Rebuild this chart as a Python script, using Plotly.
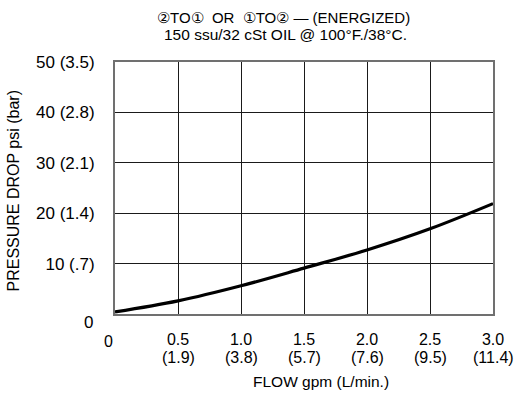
import plotly.graph_objects as go

flow_gpm = [0.0, 0.5, 1.0, 1.5, 2.0, 2.5, 3.0]
pressure_psi = [0.4, 2.6, 5.6, 9.1, 12.7, 16.9, 21.9]

x_tick_vals = [0.5, 1.0, 1.5, 2.0, 2.5, 3.0]
x_tick_gpm = ["0.5", "1.0", "1.5", "2.0", "2.5", "3.0"]
x_tick_lpm = ["(1.9)", "(3.8)", "(5.7)", "(7.6)", "(9.5)", "(11.4)"]
y_tick_vals = [10, 20, 30, 40, 50]
y_tick_text = ["10 (.7)", "20 (1.4)", "30 (2.1)", "40 (2.8)", "50 (3.5)"]

title_lines = ["②TO①  OR  ①TO② — (ENERGIZED)", "150 ssu/32 cSt OIL @ 100°F./38°C."]
x_title = "FLOW gpm (L/min.)"
y_title = "PRESSURE DROP psi (bar)"

FONT = "Liberation Sans, Arial, sans-serif"
W, H = 515, 401
L, R, T, B = 115, 22, 62, 87
PW, PH = W - L - R, H - T - B
XTICK = 16
YTICK = 17
TXT = 15.5

fig = go.Figure()
fig.add_trace(go.Scatter(x=flow_gpm, y=pressure_psi, mode="lines",
                         line=dict(color="black", width=3.2, shape="spline"),
                         showlegend=False, hoverinfo="skip"))

fig.update_layout(
    template="none",
    width=W, height=H,
    margin=dict(l=L, r=R, t=T, b=B),
    paper_bgcolor="white", plot_bgcolor="white",
    font=dict(family=FONT, size=TXT, color="black"),
    showlegend=False,
)

axis_common = dict(showline=True, linecolor="#707070", linewidth=2, mirror=True,
                   zeroline=False, automargin=False, showgrid=True,
                   gridcolor="#1a1a1a", gridwidth=1, griddash="solid",
                   ticks="outside", tickcolor="rgba(0,0,0,0)", tickwidth=1)

fig.update_layout(
    xaxis=dict(range=[0, 3.0], tickvals=x_tick_vals, ticktext=x_tick_gpm,
               tickfont=dict(size=XTICK), ticklen=10, **axis_common),
    yaxis=dict(range=[0, 50], tickvals=y_tick_vals, ticktext=y_tick_text,
               tickfont=dict(size=YTICK), ticklen=15, **axis_common),
)

# second line of x tick labels (L/min), placed on the x scale
for xv, txt in zip(x_tick_vals, x_tick_lpm):
    fig.add_annotation(x=xv, y=0, xref="x", yref="y", text=txt, showarrow=False,
                       xanchor="center", yanchor="middle", yshift=-43,
                       font=dict(size=XTICK))

# axis titles
fig.add_annotation(x=1.5, y=0, xref="x", yref="y", text=x_title, showarrow=False,
                   xanchor="center", yanchor="middle", xshift=17, yshift=-67,
                   font=dict(size=TXT))
fig.add_annotation(x=0, y=24.5, xref="x", yref="y", text=y_title, showarrow=False,
                   textangle=-90, xanchor="center", yanchor="middle", xshift=-101,
                   font=dict(size=16))

# chart title lines
fig.add_annotation(xref="paper", yref="paper", x=(283 - L) / PW,
                   y=1 + (T - 18) / PH, text=title_lines[0], showarrow=False,
                   xanchor="center", yanchor="middle", font=dict(size=15))
fig.add_annotation(xref="paper", yref="paper", x=(285 - L) / PW,
                   y=1 + (T - 35) / PH, text=title_lines[1], showarrow=False,
                   xanchor="center", yanchor="middle", font=dict(size=TXT))

# origin labels
fig.add_annotation(x=0, y=0, xref="x", yref="y", text="0", showarrow=False,
                   xshift=-27, yshift=-8, font=dict(size=YTICK))
fig.add_annotation(x=0, y=0, xref="x", yref="y", text="0", showarrow=False,
                   xshift=-7, yshift=-27, font=dict(size=XTICK))

fig.write_html("out.html", config={"displayModeBar": False},
               post_script="document.body.style.margin='0';")
